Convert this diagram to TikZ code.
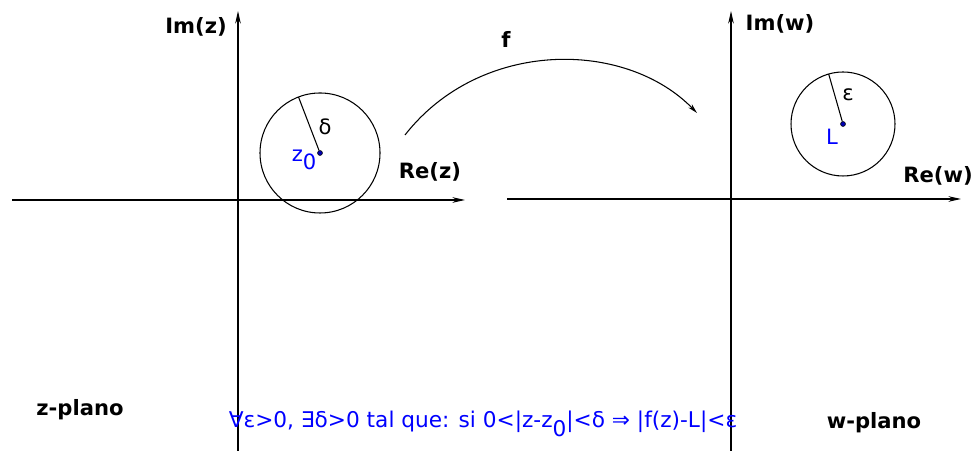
\documentclass[tikz,border=0pt]{standalone}
\usepackage{fontspec}
\setmainfont{DejaVu Sans}
\usetikzlibrary{positioning,arrows.meta,calc}

\newcommand{\lowsub}[1]{\raisebox{-0.4em}{#1}}

\begin{document}
\begin{tikzpicture}[x=0.025cm, y=0.025cm, line width=0.75pt,
    font=\fontsize{15}{18}\selectfont,
    axis/.style={-{Stealth[length=9pt,width=4pt]}},
    bold label/.style={font=\fontsize{15}{18}\selectfont\bfseries},
    blue label/.style={text=blue},
    centre dot/.style={circle, fill=blue!70!black, draw=black, line width=0.4pt, inner sep=0pt, minimum size=3.5pt}]
    \useasboundingbox (0,0) rectangle (974,451);
%
    % z-plane axes
    \node[coordinate] (zxa) at (12, 251) {};
    \node[coordinate] (zxb) at (465, 251) {};
    \node[coordinate] (zya) at (238, 0) {};
    \node[coordinate] (zyb) at (238, 440) {};
    \draw[axis] (zxa) -- (zxb);
    \draw[axis] (zya) -- (zyb);
    \node[bold label] (imz) at (196, 424) {Im(z)};
    \node[bold label] (rez) at (430, 279) {Re(z)};
    \node[bold label] (zplano) at (80, 41) {z-plano};
%
    % w-plane axes
    \node[coordinate] (wxa) at (507, 252) {};
    \node[coordinate] (wxb) at (961, 252) {};
    \node[coordinate] (wya) at (731, 0) {};
    \node[coordinate] (wyb) at (731, 440) {};
    \draw[axis] (wxa) -- (wxb);
    \draw[axis] (wya) -- (wyb);
    \node[bold label] (imw) at (780, 427) {Im(w)};
    \node[bold label] (rew) at (938, 275) {Re(w)};
    \node[bold label] (wplano) at (874, 28) {w-plano};
%
    % delta neighbourhood
    \node[centre dot] (z0) at (320, 298) {};
    \draw (z0) circle (60);
    \node[coordinate] (dend) at ($(z0)+(111:60)$) {};
    \draw (z0) -- (dend);
    \node (delta) at (325, 324) {δ};
    \node[blue label] (z0lab) at (304, 291) {z\lowsub{0}};
%
    % epsilon neighbourhood
    \node[centre dot] (L) at (843, 327) {};
    \draw (L) circle (52);
    \node[coordinate] (eend) at ($(L)+(106:52)$) {};
    \draw (L) -- (eend);
    \node (eps) at (848, 356) {ε};
    \node[blue label] (Llab) at (832, 314) {L};
%
    % the map f
    \node[coordinate] (fa) at (405, 316) {};
    \node[coordinate] (fb) at (697, 338) {};
    \draw[-{Stealth[length=7pt,width=3.5pt]}] (fa) .. controls (480, 412) and (625, 412) .. (fb);
    \node[bold label] (f) at (506, 412) {f};
%
    \node[blue label, font=\fontsize{15.4}{18}\selectfont] (cond) at (483, 27) {∀ε>0, ∃δ>0 tal que: si 0<|z-z\lowsub{0}|<δ ⇒ |f(z)-L|<ε};
  \end{tikzpicture}
\end{document}
